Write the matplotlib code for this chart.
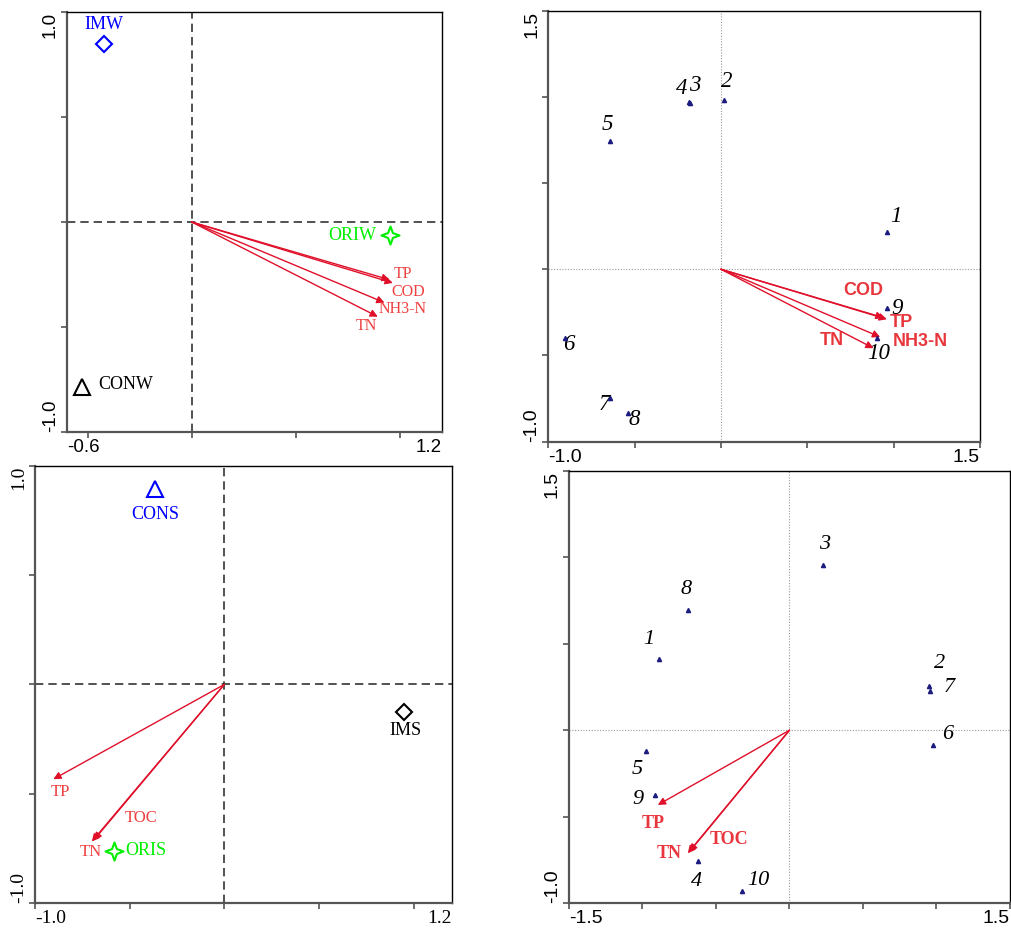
import numpy as np
import matplotlib.pyplot as plt
from matplotlib.path import Path

SERIF = ['Liberation Serif', 'DejaVu Serif']
SANS = ['Liberation Sans', 'DejaVu Sans']

# (a) water: treatment centroids and environmental arrows
w_names = ['IMW', 'ORIW', 'CONW']
w_x = [-0.42, 0.953, -0.529]
w_y = [0.85, -0.062, -0.784]
w_env = ['TP', 'COD', 'NH3-N', 'TN']
w_env_x = [0.965, 0.95, 0.925, 0.893]
w_env_y = [-0.29, -0.275, -0.384, -0.451]

# (b) water: samples 1-10 and environmental arrows
ws_ids = ['1', '2', '3', '4', '5', '6', '7', '8', '9', '10']
ws_x = [0.961, 0.019, -0.178, -0.183, -0.645, -0.902, -0.645, -0.539, 0.961, 0.903]
ws_y = [0.218, 0.984, 0.966, 0.97, 0.744, -0.397, -0.748, -0.832, -0.226, -0.4]
ws_env = ['COD', 'TP', 'NH3-N', 'TN']
ws_env_x = [0.942, 0.961, 0.922, 0.884]
ws_env_y = [-0.281, -0.29, -0.393, -0.458]

# (c) sediment: treatment centroids and environmental arrows
s_names = ['CONS', 'IMS', 'ORIS']
s_x = [-0.366, 0.95, -0.583]
s_y = [0.892, -0.124, -0.76]
s_env = ['TP', 'TOC', 'TN']
s_env_x = [-0.903, -0.689, -0.70]
s_env_y = [-0.433, -0.711, -0.718]

# (d) sediment: samples 1-10 and environmental arrows
ss_ids = ['1', '2', '3', '4', '5', '6', '7', '8', '9', '10']
ss_x = [-0.889, 0.948, 0.231, -0.624, -0.975, 0.975, 0.957, -0.692, -0.912, -0.324]
ss_y = [0.412, 0.258, 0.955, -0.755, -0.12, -0.085, 0.229, 0.695, -0.374, -0.929]
ss_env = ['TP', 'TOC', 'TN']
ss_env_x = [-0.896, -0.68, -0.692]
ss_env_y = [-0.432, -0.702, -0.711]

# layout: label placement (data offsets / positions)
w_lab = {'IMW': (0, 0.09, 'center'), 'ORIW': (-0.068, -0.003, 'right'),
         'CONW': (0.082, 0.008, 'left')}
w_env_lab = {'TP': (1.013, -0.248), 'COD': (1.037, -0.332),
             'NH3-N': (1.013, -0.414), 'TN': (0.84, -0.495)}
ws_off = {'1': (0.055, 0.086), '2': (0.016, 0.102), '3': (0.029, 0.097),
          '4': (-0.043, 0.081), '5': (-0.012, 0.097), '6': (0.019, -0.038),
          '7': (-0.029, -0.035), '8': (0.039, -0.038), '9': (0.06, 0.0),
          '10': (0.01, -0.09)}
ws_env_lab = {'COD': (0.822, -0.121), 'TP': (1.045, -0.31),
              'TN': (0.643, -0.412), 'NH3-N': (1.157, -0.42)}
s_lab = {'CONS': (0.001, -0.113, 'center'), 'IMS': (0.005, -0.087, 'center'),
         'ORIS': (0.058, 0.0, 'left')}
s_env_lab = {'TP': (-0.864, -0.49), 'TOC': (-0.437, -0.611), 'TN': (-0.706, -0.764)}
ss_off = {'3': (0.007, 0.116), '8': (-0.011, 0.116), '1': (-0.068, 0.11),
          '2': (0.072, 0.129), '7': (0.127, 0.017), '6': (0.102, 0.058),
          '5': (-0.064, -0.105), '9': (-0.12, -0.025), '4': (-0.011, -0.12),
          '10': (0.109, 0.06)}
ss_env_lab = {'TP': (-0.925, -0.538), 'TOC': (-0.413, -0.634), 'TN': (-0.821, -0.711)}

ARROW = '#e0102a'
LABRED = '#ee4040'
star4 = Path.unit_regular_star(4, 0.38)


def frame(ax, xlim, ylim, xl, yl, font, fs, dashed):
    ax.set_xlim(*xlim)
    ax.set_ylim(*ylim)
    ax.set_xticks(np.arange(np.ceil(xlim[0] * 2) / 2, xlim[1] + 0.01, 0.5))
    ax.set_yticks(np.arange(np.ceil(ylim[0] * 2) / 2, ylim[1] + 0.01, 0.5))
    ax.set_xticklabels([])
    ax.set_yticklabels([])
    ax.tick_params(direction='out', length=4, width=1.2, color='#555555',
                   top=False, right=False)
    for s in ['left', 'bottom']:
        ax.spines[s].set_color('#555555')
        ax.spines[s].set_linewidth(1.6)
    for s in ['top', 'right']:
        ax.spines[s].set_color('black')
        ax.spines[s].set_linewidth(1.0)
    if dashed:
        kw = dict(color='#333333', lw=1.2, ls=(0, (5, 3)), zorder=1)
    else:
        kw = dict(color='#999999', lw=0.8, ls=(0, (1, 1.5)), zorder=1)
    ax.axhline(0, **kw)
    ax.axvline(0, **kw)
    tk = dict(xycoords='axes fraction', textcoords='offset pixels',
              fontsize=fs, family=font)
    ax.annotate(xl[0], xy=(0, 0), xytext=(0, -7), ha='left', va='top', **tk)
    ax.annotate(xl[1], xy=(1, 0), xytext=(0, -7), ha='right', va='top', **tk)
    ax.annotate(yl[0], xy=(0, 0), xytext=(-8, 0), ha='right', va='bottom',
                rotation=90, **tk)
    ax.annotate(yl[1], xy=(0, 1), xytext=(-8, 0), ha='right', va='top',
                rotation=90, **tk)


def arrows(ax, xs, ys, ms=11):
    for x, y in zip(xs, ys):
        ax.annotate('', xy=(x, y), xytext=(0, 0),
                    arrowprops=dict(arrowstyle='-|>', color=ARROW, lw=1.0,
                                    mutation_scale=ms, shrinkA=0, shrinkB=0),
                    zorder=3)


fig = plt.figure(figsize=(10.11, 9.31), dpi=100)
ax1 = fig.add_axes([0.066, 0.536, 0.371, 0.451])
ax2 = fig.add_axes([0.5423, 0.5256, 0.427, 0.463])
ax3 = fig.add_axes([0.0346, 0.0298, 0.412, 0.470])
ax4 = fig.add_axes([0.5628, 0.0298, 0.4362, 0.4647])

# (a)
frame(ax1, (-0.6, 1.2), (-1.0, 1.0), ['-0.6', '1.2'], ['-1.0', '1.0'], SANS, 13.5, True)
w_mark = {'IMW': ('D', 8.5, '#0000ff'), 'ORIW': (star4, 13, '#00ee00'),
          'CONW': ('^', 11, 'black')}
for n, x, y in zip(w_names, w_x, w_y):
    m, sz, c = w_mark[n]
    ax1.plot(x, y, marker=m, ms=sz, mfc='none', mec=c, mew=1.5, zorder=4)
    dx, dy, ha = w_lab[n]
    ax1.text(x + dx, y + dy, n, color=c, ha=ha, va='center', fontsize=13, family=SERIF)
arrows(ax1, w_env_x, w_env_y)
for n in w_env:
    ax1.text(*w_env_lab[n], n, color=LABRED, ha='center', va='center',
             fontsize=11.5, family=SERIF)

# (b)
frame(ax2, (-1.0, 1.5), (-1.0, 1.5), ['-1.0', '1.5'], ['-1.0', '1.5'], SANS, 14, False)
ax2.plot(ws_x, ws_y, ls='none', marker='^', ms=3, color='#1c1c80', zorder=4)
for n, x, y in zip(ws_ids, ws_x, ws_y):
    dx, dy = ws_off[n]
    ax2.text(x + dx, y + dy, n, ha='center', va='center', fontsize=16.5,
             style='italic', family=SERIF)
arrows(ax2, ws_env_x, ws_env_y)
for n in ws_env:
    ax2.text(*ws_env_lab[n], n, color='#e8363d', ha='center', va='center',
             fontsize=13, fontweight='bold', family=SANS)

# (c)
frame(ax3, (-1.0, 1.2), (-1.0, 1.0), ['-1.0', '1.2'], ['-1.0', '1.0'], SERIF, 14, True)
s_mark = {'CONS': ('^', 11, '#0000ff'), 'IMS': ('D', 8.5, 'black'),
          'ORIS': (star4, 13, '#00ee00')}
for n, x, y in zip(s_names, s_x, s_y):
    m, sz, c = s_mark[n]
    ax3.plot(x, y, marker=m, ms=sz, mfc='none', mec=c, mew=1.5, zorder=4)
    dx, dy, ha = s_lab[n]
    ax3.text(x + dx, y + dy, n, color=c, ha=ha, va='center', fontsize=13, family=SERIF)
arrows(ax3, s_env_x, s_env_y)
for n in s_env:
    ax3.text(*s_env_lab[n], n, color=LABRED, ha='center', va='center',
             fontsize=12, family=SERIF)

# (d)
frame(ax4, (-1.5, 1.5), (-1.0, 1.5), ['-1.5', '1.5'], ['-1.0', '1.5'], SANS, 14, False)
ax4.plot(ss_x, ss_y, ls='none', marker='^', ms=3, color='#1c1c80', zorder=4)
for n, x, y in zip(ss_ids, ss_x, ss_y):
    dx, dy = ss_off[n]
    ax4.text(x + dx, y + dy, n, ha='center', va='center', fontsize=16,
             style='italic', family=SERIF)
arrows(ax4, ss_env_x, ss_env_y)
for n in ss_env:
    ax4.text(*ss_env_lab[n], n, color='#e8363d', ha='center', va='center',
             fontsize=13, fontweight='bold', family=SERIF)

fig.savefig('out.png', dpi=100)
plt.close(fig)
